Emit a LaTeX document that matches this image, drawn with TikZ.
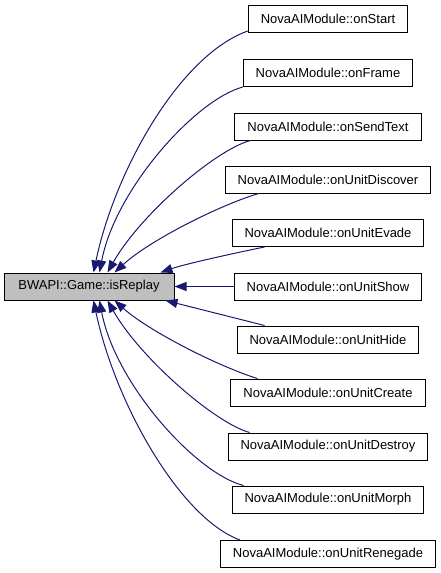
\documentclass[tikz,border=0pt]{standalone}
\usepackage{fontspec}
\setmainfont{Liberation Sans}
\usetikzlibrary{arrows.meta}
\definecolor{edgeblue}{HTML}{191970}
\definecolor{maingray}{HTML}{BFBFBF}

\begin{document}
\begin{tikzpicture}[x=1pt,y=-1pt,
    box/.style={draw=black,line width=1pt,minimum height=27pt,inner xsep=12.5pt,inner ysep=0pt,
      font=\fontsize{13}{15}\selectfont},
    call/.style={draw=edgeblue,line width=1pt,-{Triangle[length=12pt,width=9pt]}}]
  \useasboundingbox (0,0) rectangle (440,573);
  \node[box,fill=maingray,minimum width=170pt] (main) at (89,286.5) {BWAPI::Game::isReplay};
  \node[box] (start) at (328,19) {NovaAIModule::onStart};
  \node[box] (frame) at (328,73) {NovaAIModule::onFrame};
  \node[box] (sendtext) at (328,126.5) {NovaAIModule::onSendText};
  \node[box] (discover) at (328,179.5) {NovaAIModule::onUnitDiscover};
  \node[box] (evade) at (328,233) {NovaAIModule::onUnitEvade};
  \node[box] (show) at (328,286.5) {NovaAIModule::onUnitShow};
  \node[box] (hide) at (328,339.5) {NovaAIModule::onUnitHide};
  \node[box] (create) at (328,392.5) {NovaAIModule::onUnitCreate};
  \node[box] (destroy) at (328,446.5) {NovaAIModule::onUnitDestroy};
  \node[box] (morph) at (328,499.5) {NovaAIModule::onUnitMorph};
  \node[box] (renegade) at (328,554) {NovaAIModule::onUnitRenegade};
  % callers above
  \draw[call] ([yshift=2pt]start.south west) .. controls (180,55) and (115,170) .. ([xshift=90pt]main.north west);
  \draw[call] (frame.south west) .. controls (195,100) and (115,190) .. ([xshift=96pt]main.north west);
  \draw[call] ([xshift=16pt]sendtext.south west) .. controls (215,150) and (140,215) .. ([xshift=104pt]main.north west);
  \draw[call] ([xshift=34pt]discover.south west) .. controls (220,205) and (150,240) .. ([xshift=111pt]main.north west);
  \draw[call] ([xshift=33pt]evade.south west) .. controls (235,253) and (185,264) .. ([xshift=-14pt]main.north east);
  \draw[call] (show.west) -- (main.east);
  % callers below
  \draw[call] ([xshift=28pt]hide.north west) -- ([xshift=-9pt]main.south east);
  \draw[call] ([xshift=27pt]create.north west) .. controls (220,367) and (150,332) .. ([xshift=111pt]main.south west);
  \draw[call] ([xshift=22pt]destroy.north west) .. controls (215,423) and (140,358) .. ([xshift=104pt]main.south west);
  \draw[call] ([xshift=12pt]morph.north west) .. controls (195,473) and (115,383) .. ([xshift=96pt]main.south west);
  \draw[call] ([xshift=20pt]renegade.north west) .. controls (180,518) and (115,403) .. ([xshift=90pt]main.south west);
\end{tikzpicture}
\end{document}
